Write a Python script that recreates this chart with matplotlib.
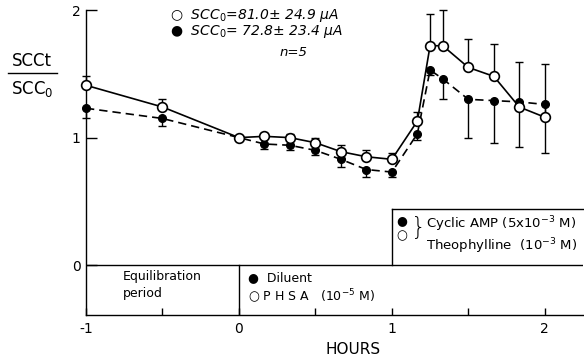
import matplotlib
matplotlib.use("Agg")
import matplotlib.pyplot as plt
from matplotlib.lines import Line2D

# time after start (hours) and SCCt/SCC0 ratios
hours = [-1, -0.5, 0, 0.167, 0.333, 0.5, 0.667, 0.833, 1.0,
         1.167, 1.25, 1.333, 1.5, 1.667, 1.833, 2.0]
phsa = [1.41, 1.24, 1.0, 1.01, 1.0, 0.96, 0.89, 0.85, 0.83,
        1.13, 1.72, 1.72, 1.55, 1.48, 1.24, 1.16]
phsa_err = [0.07, 0.06, 0.0, 0.03, 0.03, 0.04, 0.05, 0.05, 0.05,
            0.07, 0.25, 0.28, 0.22, 0.25, 0.35, 0.42]
diluent = [1.23, 1.15, 1.0, 0.95, 0.94, 0.90, 0.83, 0.75, 0.73,
           1.03, 1.53, 1.46, 1.30, 1.29, 1.28, 1.26]
diluent_err = [0.08, 0.06, 0.0, 0.04, 0.04, 0.04, 0.06, 0.06, 0.04,
               0.05, 0.04, 0.16, 0.30, 0.33, 0.35, 0.38]

plt.rcParams['font.family'] = ['DejaVu Sans']

W, H = 584, 364
fig = plt.figure(figsize=(W / 100, H / 100), dpi=100)
ax = fig.add_axes([86 / W, (H - 315) / H, (583 - 86) / W, (315 - 10) / H])
ax.set_xlim(-1, 2.25)
ax.set_ylim(-0.39, 2.0)

zeros = [0] * len(hours)
# open circles, solid line, upper error only
ax.errorbar(hours, phsa, yerr=[zeros, phsa_err], fmt='-', color='black', lw=1.2,
            elinewidth=1.0, capsize=3, capthick=1.0, clip_on=False, zorder=3)
ax.plot(hours, phsa, 'o', mfc='white', mec='black', mew=1.2, ms=7, clip_on=False, zorder=5)
# filled circles, dashed line, lower error only
ax.errorbar(hours, diluent, yerr=[diluent_err, zeros], fmt='--', color='black', lw=1.2,
            dashes=(5, 3), elinewidth=1.0, capsize=3, capthick=1.0, clip_on=False, zorder=3)
ax.plot(hours, diluent, 'o', color='black', ms=5.5, clip_on=False, zorder=4)

# frame: only left and bottom spines
for s in ['top', 'right']:
    ax.spines[s].set_visible(False)
for s in ['left', 'bottom']:
    ax.spines[s].set_linewidth(1.0)

# box lines in the lower band
ax.axhline(0, color='black', lw=1.0)
ax.plot([0, 0], [-0.39, 0], color='black', lw=1.0)
ax.plot([1, 1], [0, 0.44], color='black', lw=1.0)
ax.plot([1, 2.25], [0.44, 0.44], color='black', lw=1.0, clip_on=False)

ax.set_yticks([0, 1, 2])
ax.set_yticklabels(['0', '1', '2'])
ax.set_xticks([-1, 0, 1, 2])
ax.set_xticklabels(['-1', '0', '1', '2'])
ax.set_xticks([-0.5, 0.5, 1.5], minor=True)
ax.tick_params(axis='y', direction='in', length=8, width=1.0, labelsize=10, pad=4)
ax.tick_params(axis='x', which='both', direction='in', length=5, width=1.0,
               labelsize=10, pad=5)

# legend at the top
fig.text(170 / W, 1 - 16 / H, '○  $\\it{SCC_0}$=81.0± 24.9 $\\mu$A', fontsize=10,
         style='italic', va='center')
fig.text(170 / W, 1 - 32 / H, '●  $\\it{SCC_0}$= 72.8± 23.4 $\\mu$A', fontsize=10,
         style='italic', va='center')
fig.text(280 / W, 1 - 52 / H, 'n=5', fontsize=9.5, style='italic', va='center')

# boxes' texts
ax.text(-0.76, -0.04, 'Equilibration\nperiod', fontsize=9, va='top', ha='left',
        linespacing=1.4)
ax.text(0.06, -0.10, '●  Diluent', fontsize=9, va='center', ha='left')
ax.text(0.06, -0.25, '○ P H S A   (10$^{-5}$ M)', fontsize=9, va='center', ha='left')
ax.text(1.03, 0.35, '●', fontsize=9, va='center', ha='left')
ax.text(1.03, 0.23, '○', fontsize=9, va='center', ha='left')
ax.text(1.125, 0.29, '}', fontsize=17, va='center', ha='left', fontweight='light')
ax.text(1.225, 0.32, 'Cyclic AMP (5x10$^{-3}$ M)', fontsize=9.5, va='center', ha='left')
ax.text(1.225, 0.15, 'Theophylline  (10$^{-3}$ M)', fontsize=9.5, va='center', ha='left')

# y label as a fraction
fig.text(32 / W, 1 - 61 / H, 'SCCt', fontsize=12, ha='center', va='center')
fig.text(32 / W, 1 - 89 / H, 'SCC$_\\mathregular{0}$', fontsize=12, ha='center', va='center')
fig.add_artist(Line2D([8 / W, 57 / W], [1 - 73 / H, 1 - 73 / H], color='black', lw=1.0))

fig.text(353 / W, 1 - 350 / H, 'HOURS', fontsize=11, ha='center', va='center')

fig.savefig('out.png', dpi=100)
